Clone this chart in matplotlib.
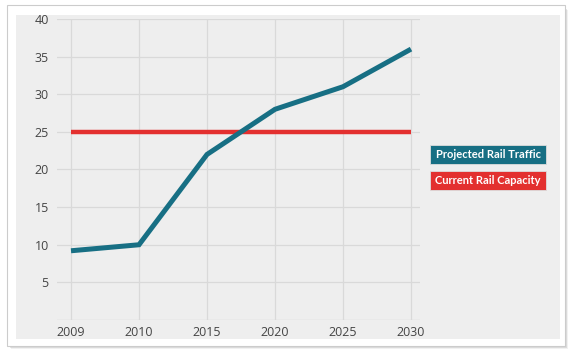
import matplotlib.pyplot as plt
from matplotlib.patches import Rectangle

W, H = 575, 358

years = ['2009', '2010', '2015', '2020', '2025', '2030']
traffic = [9.2, 10, 22, 28, 31, 36]
capacity = [25, 25, 25, 25, 25, 25]
y_ticks = [5, 10, 15, 20, 25, 30, 35, 40]
legend_labels = ['Projected Rail Traffic', 'Current Rail Capacity']

TEAL = '#176f84'
RED = '#e3302f'
GRID = '#d9d9d9'
PANEL = '#eeeeee'
TEXT = '#444444'

plt.rcParams['font.family'] = ['Open Sans', 'DejaVu Sans']


def fx(px):
    return px / W


def fy(py):
    return 1 - py / H


fig = plt.figure(figsize=(W / 100, H / 100), dpi=100)
fig.patch.set_facecolor('white')

# card with soft shadow
for off, a in [(3, 0.10), (2, 0.18), (1, 0.30)]:
    fig.patches.append(Rectangle((fx(8 + off), fy(346 + off)), fx(557), 339 / H,
                                 transform=fig.transFigure, facecolor='#777777',
                                 alpha=a, edgecolor='none', zorder=0))
fig.patches.append(Rectangle((fx(7), fy(346)), fx(558), 341 / H,
                             transform=fig.transFigure, facecolor='white',
                             edgecolor='#cccccc', linewidth=0.8, zorder=1))
fig.patches.append(Rectangle((fx(16), fy(339)), fx(544), 324 / H,
                             transform=fig.transFigure, facecolor=PANEL,
                             edgecolor='none', zorder=2))

# axes: 2009 at px 71, spacing 68; y 0 at 320, 40 at 19
ax = fig.add_axes([fx(57), fy(320), fx(420 - 57), (320 - 19) / H])
ax.set_facecolor('none')
ax.set_zorder(3)
x = list(range(len(years)))
ax.set_xlim(-14 / 68, 5 + 9 / 68)
ax.set_ylim(0, 40)

for yv in y_ticks:
    ax.axhline(yv, color=GRID, linewidth=0.9, zorder=1)
ax.axhline(0, color=GRID, linewidth=1.0, zorder=1)
for xv in x:
    ax.axvline(xv, color=GRID, linewidth=0.9, zorder=1)

ax.plot(x, capacity, color=RED, linewidth=3.2, solid_capstyle='butt', zorder=3)
ax.plot(x, traffic, color=TEAL, linewidth=3.6, solid_capstyle='butt',
        solid_joinstyle='miter', zorder=4, clip_on=False)

for s in ax.spines.values():
    s.set_visible(False)
ax.set_xticks(x)
ax.set_xticklabels(years)
ax.set_yticks(y_ticks)
ax.tick_params(length=0, labelsize=9, colors=TEXT)
ax.tick_params(axis='x', pad=4)
ax.tick_params(axis='y', pad=6)

# legend boxes
for i, (lab, col) in enumerate(zip(legend_labels, [TEAL, RED])):
    top = 145 + i * 26
    fig.patches.append(Rectangle((fx(430), fy(top + 19)), fx(116), 19 / H,
                                 transform=fig.transFigure, facecolor=col,
                                 edgecolor='#dddddd', linewidth=0.6, zorder=4))
    fig.text(fx(488), fy(top + 9.5), lab, color='white', fontsize=8,
             fontweight='bold', family=['Lato', 'DejaVu Sans'],
             ha='center', va='center', zorder=5)

fig.savefig('out.png', dpi=100)
